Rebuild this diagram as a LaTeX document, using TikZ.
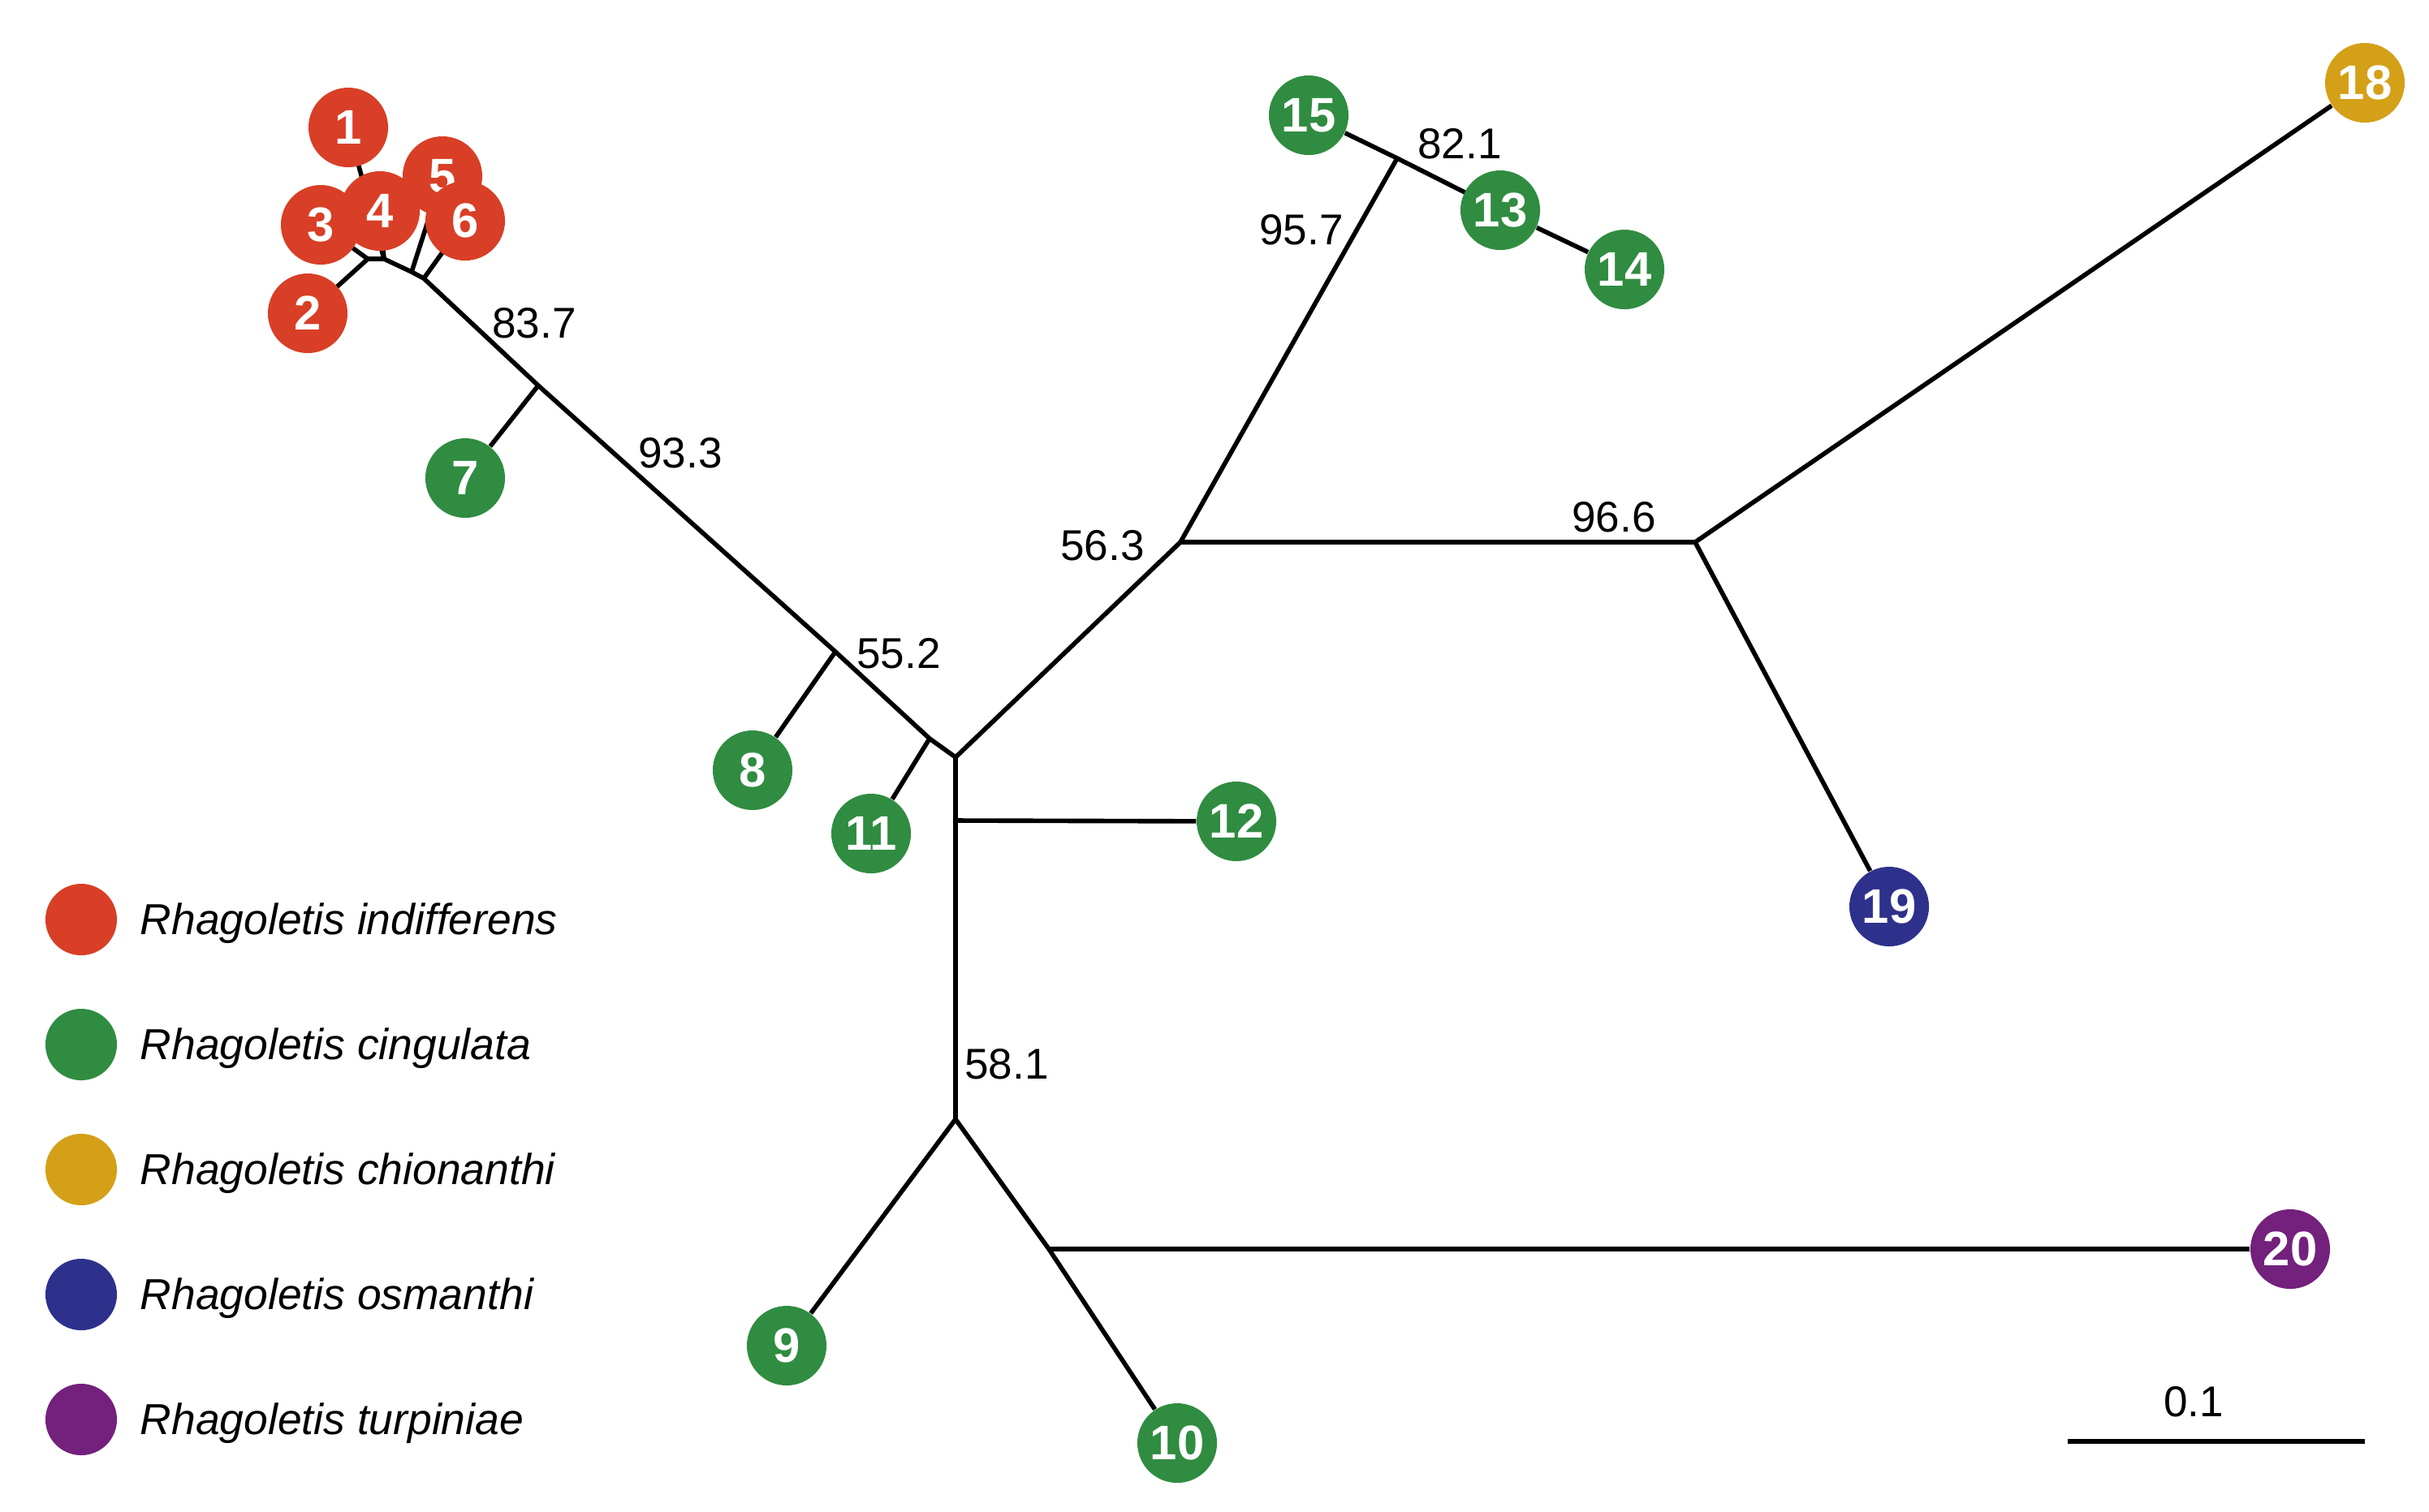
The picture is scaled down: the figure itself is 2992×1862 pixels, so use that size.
\documentclass[tikz,border=0pt]{standalone}
\usepackage{fontspec}
\setmainfont{Liberation Sans}
\definecolor{cred}{HTML}{D83F26}
\definecolor{cgreen}{HTML}{308C41}
\definecolor{cgold}{HTML}{D4A017}
\definecolor{cnavy}{HTML}{2E318B}
\definecolor{cpurple}{HTML}{73217C}
\pgfdeclarelayer{background}
\pgfsetlayers{background,main}
\tikzset{
  leaf/.style={circle,inner sep=0pt,minimum size=0.98cm,text=white,font=\fontsize{17}{17}\selectfont\bfseries},
  branch/.style={line width=1.6pt,line join=round},
  blabel/.style={inner sep=0pt,font=\fontsize{15.1}{15.1}\selectfont},
  legdot/.style={circle,inner sep=0pt,minimum size=0.88cm},
  legtext/.style={inner sep=0pt,anchor=base west,font=\fontsize{15.2}{15.2}\selectfont\itshape}
}
\begin{document}
\begin{tikzpicture}[x=0.01cm,y=-0.01cm]
\useasboundingbox (0,0) rectangle (2992,1862);
% junctions
\coordinate (j1) at (453,319);
\coordinate (j2) at (473,319);
\coordinate (j3) at (507,335);
\coordinate (j4) at (522,343);
\coordinate (j5) at (663,475);
\coordinate (j6) at (1029,803);
\coordinate (j7) at (1145,910);
\coordinate (j8) at (1177,933);
\coordinate (j9) at (1177,1011);
\coordinate (j10) at (1177,1379);
\coordinate (j11) at (1292,1539);
\coordinate (j12) at (1454,668);
\coordinate (j13) at (1721,195);
\coordinate (j14) at (2088,668);
% leaves
\node[leaf,fill=cred] (n1) at (429,157) {1};
\node[leaf,fill=cred] (n3) at (395,277) {3};
\node[leaf,fill=cred] (n4) at (468,260) {4};
\node[leaf,fill=cred] (n2) at (379,386) {2};
\node[leaf,fill=cred] (n5) at (545,217) {5};
\node[leaf,fill=cred] (n6) at (573,272) {6};
\node[leaf,fill=cgreen] (n7) at (573,589) {7};
\node[leaf,fill=cgreen] (n8) at (927,949) {8};
\node[leaf,fill=cgreen] (n9) at (969,1658) {9};
\node[leaf,fill=cgreen] (n10) at (1450,1778) {10};
\node[leaf,fill=cgreen] (n11) at (1073,1027) {11};
\node[leaf,fill=cgreen] (n12) at (1523,1012) {12};
\node[leaf,fill=cgreen] (n13) at (1848,259) {13};
\node[leaf,fill=cgreen] (n14) at (2001,332) {14};
\node[leaf,fill=cgreen] (n15) at (1612,142) {15};
\node[leaf,fill=cgold] (n18) at (2913,102) {18};
\node[leaf,fill=cnavy] (n19) at (2327,1117) {19};
\node[leaf,fill=cpurple] (n20) at (2821,1539) {20};
% branches
\begin{pgfonlayer}{background}
\draw[branch] (j1) -- (n2.center);
\draw[branch] (j1) -- (n3.center);
\draw[branch] (j1) -- (j2);
\draw[branch] (j2) -- (n1.center);
\draw[branch] (j2) -- (n4.center);
\draw[branch] (j2) -- (j3) -- (j4) -- (j5) -- (j6) -- (j7) -- (j8);
\draw[branch] (j3) -- (n5.center);
\draw[branch] (j4) -- (n6.center);
\draw[branch] (j5) -- (n7);
\draw[branch] (j6) -- (n8);
\draw[branch] (j7) -- (n11);
\draw[branch] (j8) -- (j9) -- (j10);
\draw[branch] (j9) -- (n12);
\draw[branch] (j10) -- (n9);
\draw[branch] (j10) -- (j11) -- (n10);
\draw[branch] (j11) -- (n20);
\draw[branch] (j8) -- (j12);
\draw[branch] (j12) -- (j13);
\draw[branch] (j13) -- (n15);
\draw[branch] (j13) -- (n13.center);
\draw[branch] (n13) -- (n14);
\draw[branch] (j12) -- (j14);
\draw[branch] (j14) -- (n18);
\draw[branch] (j14) -- (n19);
\end{pgfonlayer}
% branch support labels
\node[blabel] (l837) at (658,398) {83.7};
\node[blabel] (l933) at (838,558) {93.3};
\node[blabel] (l552) at (1107,805) {55.2};
\node[blabel] (l581) at (1240,1311) {58.1};
\node[blabel] (l563) at (1358,672) {56.3};
\node[blabel] (l957) at (1603,283) {95.7};
\node[blabel] (l821) at (1798,177) {82.1};
\node[blabel] (l966) at (1988,637) {96.6};
% scale bar
\coordinate (sb1) at (2547,1776);
\coordinate (sb2) at (2913,1776);
\draw[branch] (sb1) -- (sb2);
\node[blabel] (sbl) at (2702,1727) {0.1};
% legend
\node[legdot,fill=cred] (d1) at (100,1133) {};
\node[legdot,fill=cgreen] (d2) at (100,1287) {};
\node[legdot,fill=cgold] (d3) at (100,1441) {};
\node[legdot,fill=cnavy] (d4) at (100,1595) {};
\node[legdot,fill=cpurple] (d5) at (100,1749) {};
\node[legtext] (t1) at (172,1151) {Rhagoletis indifferens};
\node[legtext] (t2) at (172,1305) {Rhagoletis cingulata};
\node[legtext] (t3) at (172,1459) {Rhagoletis chionanthi};
\node[legtext] (t4) at (172,1613) {Rhagoletis osmanthi};
\node[legtext] (t5) at (172,1767) {Rhagoletis turpiniae};
\end{tikzpicture}
\end{document}
